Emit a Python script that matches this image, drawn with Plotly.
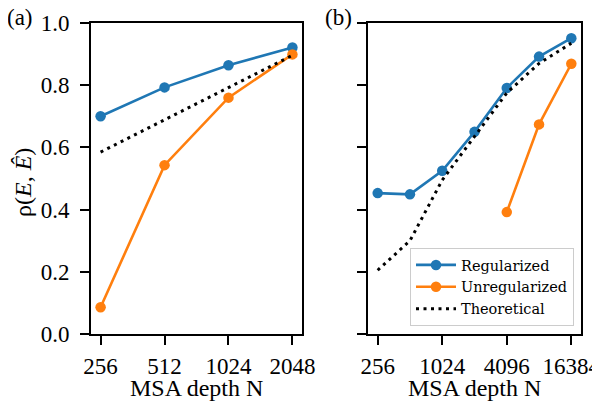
import numpy as np
import plotly.graph_objects as go
from plotly.subplots import make_subplots

# Panel (a)
depth_a = [256, 512, 1024, 2048]
reg_a = [0.700, 0.793, 0.864, 0.921]
unreg_a = [0.086, 0.543, 0.760, 0.899]
theo_a = [0.585, 0.688, 0.792, 0.896]

# Panel (b)
depth_b = [256, 512, 1024, 2048, 4096, 8192, 16384]
reg_b = [0.453, 0.449, 0.525, 0.650, 0.791, 0.892, 0.951]
depth_b_unreg = [4096, 8192, 16384]
unreg_b = [0.392, 0.674, 0.869]
theo_b = [0.205, 0.300, 0.495, 0.635, 0.775, 0.870, 0.935]

ticks_a = [256, 512, 1024, 2048]
ticks_b = [256, 1024, 4096, 16384]
yticks = [0.0, 0.2, 0.4, 0.6, 0.8, 1.0]

BLUE = '#1f77b4'
ORANGE = '#ff7f0e'
FONT = 'Liberation Serif'

# the page body adds an 8px margin, so the figure is drawn 8px smaller
W, H, OFF = 592, 395, 8


def px_x(x):
    return (x - OFF) / W


def px_y(y):
    return 1 - (y - OFF) / H


def log_range(vals, pad=0.05):
    lo, hi = np.log10(min(vals)), np.log10(max(vals))
    span = hi - lo
    return [lo - pad * span, hi + pad * span]


fig = make_subplots(rows=1, cols=2)

line_kw = dict(width=2.6)
mark_kw = dict(size=10.5)
dots = dict(color='black', width=3, dash='3px,4.5px')

fig.add_trace(go.Scatter(x=depth_a, y=reg_a, mode='lines+markers', name='Regularized',
                         line=dict(color=BLUE, **line_kw), marker=mark_kw,
                         showlegend=False), row=1, col=1)
fig.add_trace(go.Scatter(x=depth_a, y=unreg_a, mode='lines+markers', name='Unregularized',
                         line=dict(color=ORANGE, **line_kw), marker=mark_kw,
                         showlegend=False), row=1, col=1)
fig.add_trace(go.Scatter(x=depth_a, y=theo_a, mode='lines', name='Theoretical',
                         line=dots, showlegend=False), row=1, col=1)

fig.add_trace(go.Scatter(x=depth_b, y=reg_b, mode='lines+markers', name='Regularized',
                         line=dict(color=BLUE, **line_kw), marker=mark_kw), row=1, col=2)
fig.add_trace(go.Scatter(x=depth_b_unreg, y=unreg_b, mode='lines+markers', name='Unregularized',
                         line=dict(color=ORANGE, **line_kw), marker=mark_kw), row=1, col=2)
fig.add_trace(go.Scatter(x=depth_b, y=theo_b, mode='lines', name='Theoretical',
                         line=dots), row=1, col=2)

axis_common = dict(showline=True, linecolor='black', linewidth=1.8, mirror=True,
                   ticks='outside', ticklen=9, tickwidth=1.6, tickcolor='black',
                   showgrid=False, zeroline=False, automargin=False,
                   ticklabeloverflow='allow',
                   tickfont=dict(family=FONT, size=23, color='black'))
ydom = [px_y(334), px_y(23)]

fig.update_xaxes(type='log', domain=[px_x(91), px_x(302)], range=log_range(depth_a),
                 tickvals=ticks_a, ticktext=[str(t) for t in ticks_a], ticklabelstandoff=1,
                 **axis_common, row=1, col=1)
fig.update_xaxes(type='log', domain=[px_x(368), px_x(581)], range=log_range(depth_b),
                 tickvals=ticks_b, ticktext=[str(t) for t in ticks_b], ticklabelstandoff=1,
                 **axis_common, row=1, col=2)
fig.update_yaxes(range=[0, 1], domain=ydom,
                 tickvals=yticks, ticktext=[f'{v:.1f}' for v in yticks], ticklabelstandoff=6,
                 **axis_common, row=1, col=1)
fig.update_yaxes(range=[0, 1], domain=ydom,
                 tickvals=yticks, showticklabels=False,
                 **axis_common, row=1, col=2)

# axis titles and panel labels as paper annotations
title_font = dict(family=FONT, size=24, color='black')
for cx in [(91 + 302) / 2, (368 + 581) / 2]:
    fig.add_annotation(text='MSA depth N', x=px_x(cx), y=px_y(388), xref='paper', yref='paper',
                       xanchor='center', yanchor='middle', showarrow=False, font=title_font)
fig.add_annotation(text='ρ(<i>E</i>, <i>Ê</i>)', x=px_x(23), y=px_y(183),
                   xref='paper', yref='paper', textangle=-90,
                   xanchor='center', yanchor='middle', showarrow=False, font=title_font)

fig.add_annotation(text='(a)', x=px_x(6), y=px_y(4), xref='paper', yref='paper',
                   xanchor='left', yanchor='top', showarrow=False, borderpad=0,
                   font=dict(family=FONT, size=23, color='black'))
fig.add_annotation(text='(b)', x=px_x(324), y=px_y(4), xref='paper', yref='paper',
                   xanchor='left', yanchor='top', showarrow=False, borderpad=0,
                   font=dict(family=FONT, size=23, color='black'))

fig.update_layout(
    width=W, height=H,
    margin=dict(l=0, r=0, t=0, b=0),
    paper_bgcolor='white', plot_bgcolor='white',
    legend=dict(x=px_x(574), y=px_y(326), xanchor='right', yanchor='bottom',
                bgcolor='rgba(255,255,255,0.8)', bordercolor='#cccccc', borderwidth=1,
                font=dict(family='DejaVu Serif', size=14.5, color='black'),
                tracegroupgap=0, itemwidth=40),
)

fig.write_html('out.html')
